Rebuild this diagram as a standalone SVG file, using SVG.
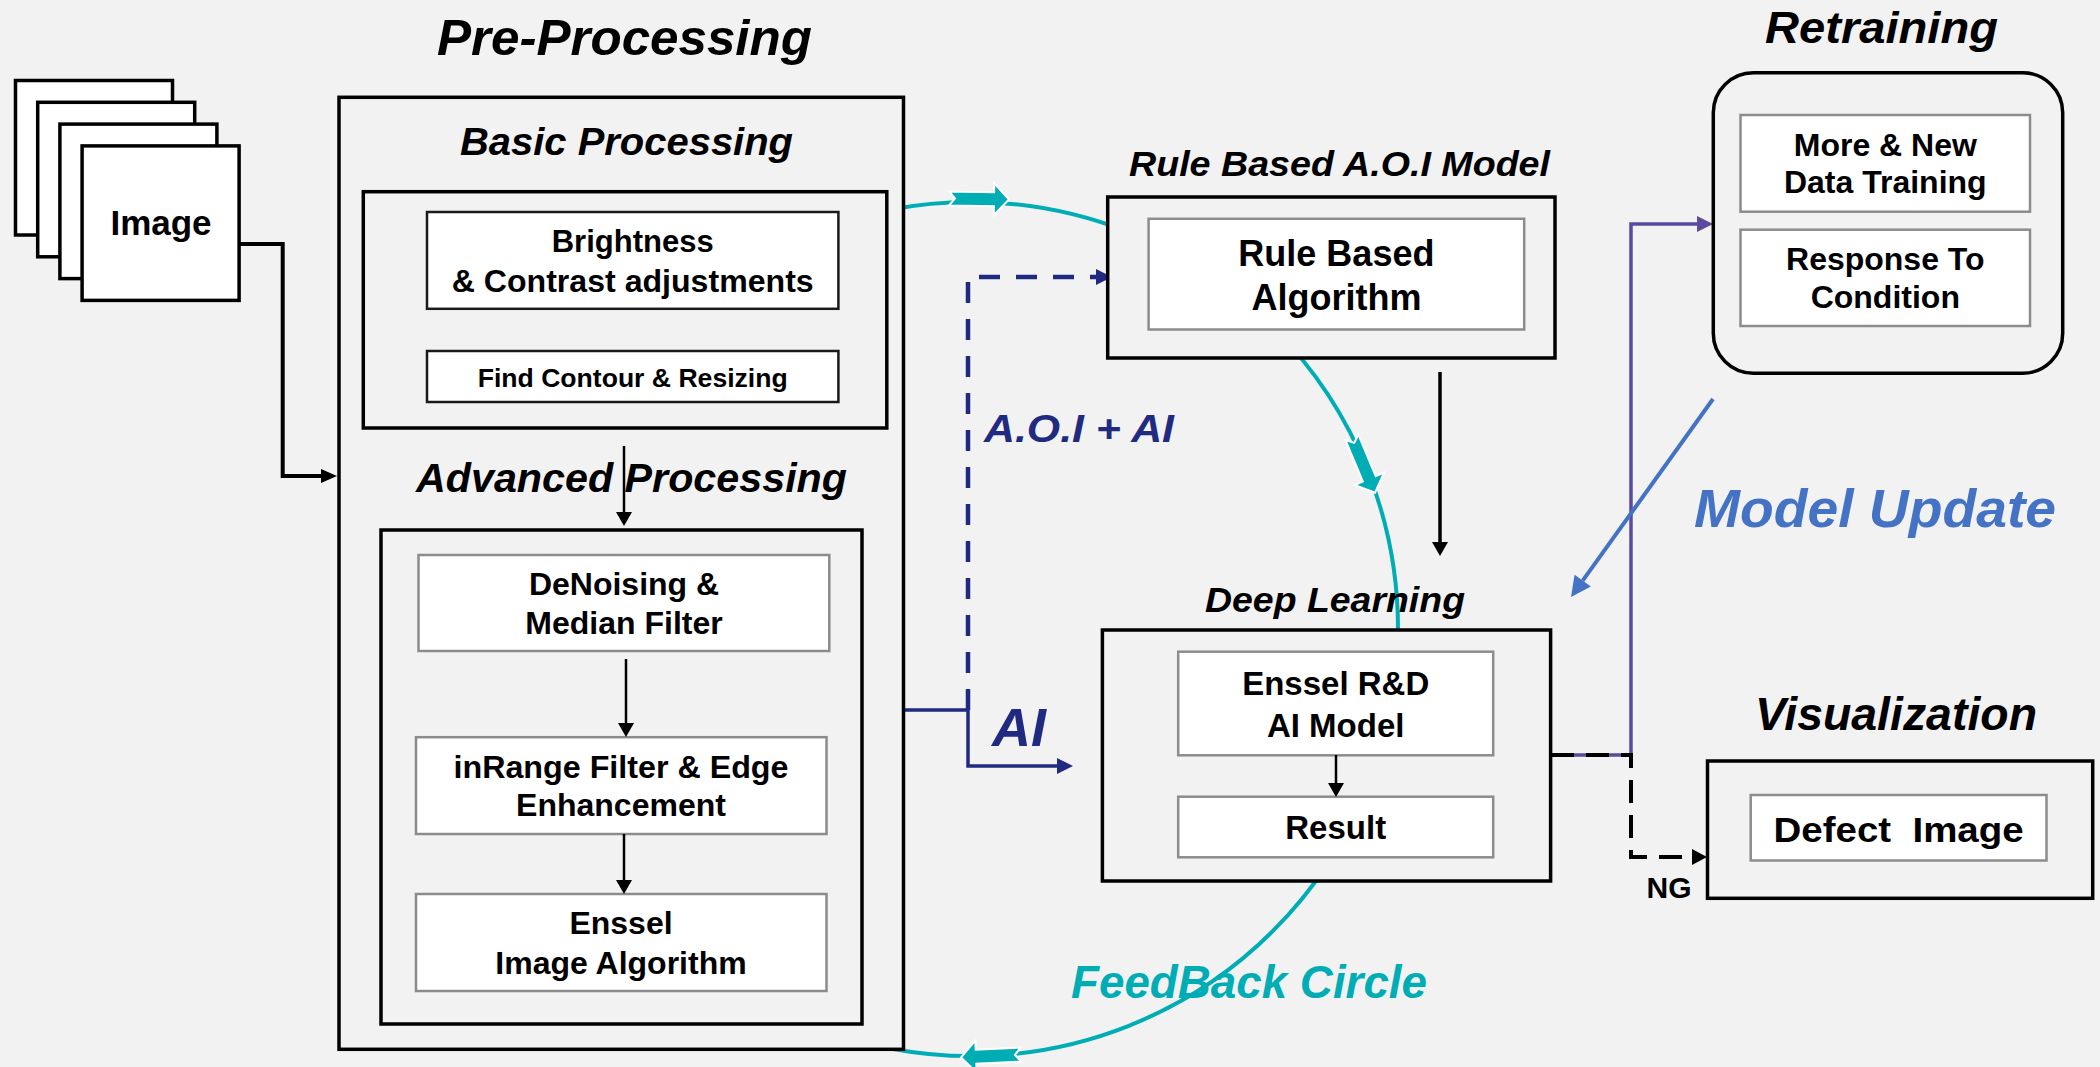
<svg xmlns="http://www.w3.org/2000/svg" width="2100" height="1067" viewBox="0 0 2100 1067">
<style>
.bx{fill:#f2f2f2;stroke:#000;stroke-width:3.5}
.in{fill:#fff;stroke:#8c8c8c;stroke-width:2.5}
.ind{fill:#fff;stroke:#1a1a1a;stroke-width:2.5}
.img{fill:#fff;stroke:#000;stroke-width:3.5}
.t{font-family:"Liberation Sans",Arial,sans-serif;font-weight:bold;text-anchor:middle;fill:#000}
.ti{font-style:italic}
.thin{fill:none;stroke:#000;stroke-width:2.5}
.fb{fill:#00adb5;stroke:#fff;stroke-width:2}
</style>
<defs>
<marker id="hBs" markerUnits="userSpaceOnUse" markerWidth="14" markerHeight="16" refX="0" refY="8" orient="auto" overflow="visible"><path d="M0,0 L14,8 L0,16 Z" fill="#000"/></marker>
<marker id="hBl" markerUnits="userSpaceOnUse" markerWidth="16" markerHeight="14" refX="0" refY="7" orient="auto" overflow="visible"><path d="M0,0 L16,7 L0,14 Z" fill="#000"/></marker>
<marker id="hBd" markerUnits="userSpaceOnUse" markerWidth="15" markerHeight="16" refX="0" refY="8" orient="auto" overflow="visible"><path d="M0,0 L15,8 L0,16 Z" fill="#000"/></marker>
<marker id="hN" markerUnits="userSpaceOnUse" markerWidth="16" markerHeight="16" refX="0" refY="8" orient="auto" overflow="visible"><path d="M0,0 L16,8 L0,16 Z" fill="#1f2a80"/></marker>
<marker id="hP" markerUnits="userSpaceOnUse" markerWidth="16" markerHeight="16" refX="0" refY="8" orient="auto" overflow="visible"><path d="M0,0 L16,8 L0,16 Z" fill="#5b4a9e"/></marker>
<marker id="hU" markerUnits="userSpaceOnUse" markerWidth="20" markerHeight="20" refX="0" refY="10" orient="auto" overflow="visible"><path d="M0,0 L20,10 L0,20 Z" fill="#4472c4"/></marker>
<path id="fbArrow" d="M0,-7 L45,-7 L45,-16 L60,0 L45,16 L45,7 L0,7 L6,0 Z"/>
</defs>
<rect x="0" y="0" width="2100" height="1067" fill="#f2f2f2"/>

<g id="connectors">
  <circle cx="971" cy="629" r="427" fill="none" stroke="#00adb5" stroke-width="4"/>
  <use href="#fbArrow" class="fb" transform="translate(979,199) rotate(1) translate(-30,0)"/>
  <use href="#fbArrow" class="fb" transform="translate(1363.5,465) rotate(67.3) translate(-30,0)"/>
  <use href="#fbArrow" class="fb" transform="translate(991,1056) rotate(177.3) translate(-30,0)"/>
  <path d="M240,244 H282.7 V476 H321" fill="none" stroke="#000" stroke-width="4" marker-end="url(#hBl)"/>
  <path d="M1440,372 V542" fill="none" stroke="#000" stroke-width="3.5" marker-end="url(#hBs)"/>
  <path d="M862,710 H968 V766 H1057" fill="none" stroke="#1f2a80" stroke-width="3.5" marker-end="url(#hN)"/>
  <path d="M968,710 V277 H1096" fill="none" stroke="#1f2a80" stroke-width="4.5" stroke-dasharray="21 16" marker-end="url(#hN)"/>
  <path d="M1551,755 H1631 V224 H1697" fill="none" stroke="#5b4a9e" stroke-width="3.5" marker-end="url(#hP)"/>
  <path d="M1551,755 H1631 V857 H1692" fill="none" stroke="#000" stroke-width="4" stroke-dasharray="23 12" marker-end="url(#hBd)"/>
  <path d="M1713,399 L1582.7,580.7" fill="none" stroke="#4472c4" stroke-width="4" marker-end="url(#hU)"/>
</g>

<g id="image-stack">
  <rect class="img" x="15.5" y="80.5" width="157" height="154.5"/>
  <rect class="img" x="37.7" y="102.3" width="157" height="154.5"/>
  <rect class="img" x="59.9" y="124.1" width="157" height="154.5"/>
  <rect class="img" x="82.1" y="145.9" width="157" height="154.5"/>
  <text class="t" x="161" y="235" font-size="35">Image</text>
</g>

<g id="pre-processing">
  <text class="t ti" x="624.5" y="55" font-size="50" textLength="375" lengthAdjust="spacingAndGlyphs">Pre-Processing</text>
  <rect class="bx" x="339" y="97.3" width="564.5" height="952"/>
  <text class="t ti" x="626.5" y="155" font-size="39" textLength="333" lengthAdjust="spacingAndGlyphs">Basic Processing</text>
  <text class="t ti" x="631.5" y="492" font-size="41" textLength="431" lengthAdjust="spacingAndGlyphs">Advanced Processing</text>
</g>

<g id="basic-processing">
  <rect class="bx" x="363.3" y="191.7" width="523.5" height="236.3"/>
  <g id="brightness">
    <rect class="ind" x="427" y="212" width="411.4" height="96.8"/>
    <text class="t" x="632.7" y="252" font-size="31">Brightness</text>
    <text class="t" x="632.7" y="292" font-size="31" textLength="362" lengthAdjust="spacingAndGlyphs">&amp; Contrast adjustments</text>
  </g>
  <g id="find-contour">
    <rect class="ind" x="427" y="351" width="411.4" height="51"/>
    <text class="t" x="632.7" y="387" font-size="26" textLength="310" lengthAdjust="spacingAndGlyphs">Find Contour &amp; Resizing</text>
  </g>
</g>

<g id="advanced-processing">
  <rect class="bx" x="381" y="530" width="481" height="494"/>
  <g id="denoising">
    <rect class="in" x="418.5" y="555" width="410.8" height="96"/>
    <text class="t" x="624" y="595" font-size="32">DeNoising &amp;</text>
    <text class="t" x="624" y="634" font-size="32">Median Filter</text>
  </g>
  <g id="inrange">
    <rect class="in" x="416" y="737.2" width="410.5" height="96.8"/>
    <text class="t" x="621" y="778" font-size="32" textLength="335" lengthAdjust="spacingAndGlyphs">inRange Filter &amp; Edge</text>
    <text class="t" x="621" y="816" font-size="32">Enhancement</text>
  </g>
  <g id="enssel-image">
    <rect class="in" x="416" y="894" width="410.5" height="97"/>
    <text class="t" x="621" y="934" font-size="32">Enssel</text>
    <text class="t" x="621" y="974" font-size="32">Image Algorithm</text>
  </g>
</g>

<g id="rule-based">
  <text class="t ti" x="1339.5" y="176" font-size="35" textLength="421" lengthAdjust="spacingAndGlyphs">Rule Based A.O.I Model</text>
  <rect class="bx" x="1107.7" y="197" width="447.3" height="161"/>
  <rect class="in" x="1148.6" y="218.8" width="375.6" height="110.7"/>
  <text class="t" x="1336.4" y="266" font-size="36">Rule Based</text>
  <text class="t" x="1336.4" y="310" font-size="36">Algorithm</text>
</g>

<g id="deep-learning">
  <text class="t ti" x="1335" y="612" font-size="35" textLength="260" lengthAdjust="spacingAndGlyphs">Deep Learning</text>
  <rect class="bx" x="1102.4" y="630" width="448.2" height="251"/>
  <rect class="in" x="1178.2" y="651.7" width="315" height="103.6"/>
  <text class="t" x="1335.7" y="695" font-size="33">Enssel R&amp;D</text>
  <text class="t" x="1335.7" y="737" font-size="33">AI Model</text>
  <rect class="in" x="1178.2" y="796.7" width="315" height="60.6"/>
  <text class="t" x="1335.7" y="839" font-size="33">Result</text>
</g>

<g id="retraining">
  <text class="t ti" x="1881.5" y="43" font-size="45" textLength="233" lengthAdjust="spacingAndGlyphs">Retraining</text>
  <rect class="bx" x="1713.3" y="72.7" width="349.4" height="300.6" rx="40" ry="40"/>
  <rect class="in" x="1740.5" y="115" width="289.5" height="96.7"/>
  <text class="t" x="1885.3" y="156" font-size="32">More &amp; New</text>
  <text class="t" x="1885.3" y="193" font-size="32">Data Training</text>
  <rect class="in" x="1740.5" y="229.7" width="289.5" height="96.3"/>
  <text class="t" x="1885.3" y="270" font-size="32">Response To</text>
  <text class="t" x="1885.3" y="308" font-size="32">Condition</text>
</g>

<g id="visualization">
  <text class="t ti" x="1896" y="730" font-size="46" textLength="282" lengthAdjust="spacingAndGlyphs">Visualization</text>
  <rect class="bx" x="1707.5" y="761" width="385.2" height="137.3"/>
  <rect class="in" x="1750.7" y="795" width="295.8" height="65.5"/>
  <text class="t" x="1898.6" y="842" font-size="35" xml:space="preserve" style="white-space:pre" textLength="250" lengthAdjust="spacingAndGlyphs">Defect  Image</text>
</g>

<g id="inner-connectors">
  <path d="M624,446 V512" class="thin" marker-end="url(#hBs)"/>
  <path d="M626,659 V723" class="thin" marker-end="url(#hBs)"/>
  <path d="M624,834 V880" class="thin" marker-end="url(#hBs)"/>
  <path d="M1336,755 V783" class="thin" marker-end="url(#hBs)"/>
</g>

<g id="labels">
  <text class="t ti" x="1079" y="442" font-size="38" style="fill:#1f2a80" textLength="190" lengthAdjust="spacingAndGlyphs">A.O.I + AI</text>
  <text class="t ti" x="1019" y="746" font-size="54" style="fill:#1f2a80">AI</text>
  <text class="t ti" x="1249" y="998" font-size="46" style="fill:#00adb5" textLength="356" lengthAdjust="spacingAndGlyphs">FeedBack Circle</text>
  <text class="t ti" x="1875" y="527" font-size="54" style="fill:#4472c4" textLength="362" lengthAdjust="spacingAndGlyphs">Model Update</text>
  <text class="t" x="1669" y="898" font-size="30">NG</text>
</g>
</svg>
